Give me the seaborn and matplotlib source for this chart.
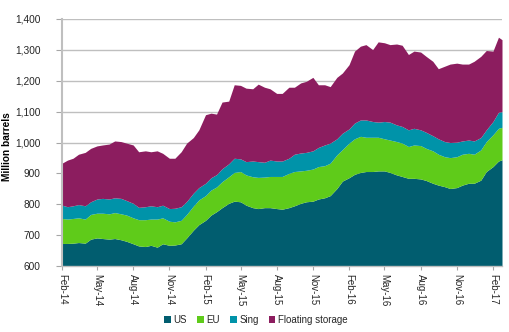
import matplotlib
matplotlib.use("Agg")
import matplotlib.pyplot as plt
import matplotlib.dates as mdates
import matplotlib.ticker as mticker
from matplotlib.patches import Patch
import pandas as pd
import seaborn as sns

# Semi-monthly observations, Feb 2014 to late Feb 2017 (million barrels)
dates = list(pd.date_range("2014-02-01", periods=74, freq="SMS")) + [pd.Timestamp("2017-02-24")]

us = [673, 673, 674, 676, 674, 687, 691, 689, 687, 689, 685, 680, 672, 665, 663, 667, 661, 672, 667,
      668, 672, 691, 716, 734, 748, 765, 776, 789, 803,
      810, 808, 797, 789, 786, 789, 789, 786, 784, 789,
      795, 803, 808, 810, 817, 821, 828, 851, 875, 886,
      897, 903, 906, 906, 908, 908, 903, 895, 890, 884,
      884, 882, 877, 868, 862, 857, 851, 854, 862, 868,
      868, 878, 906, 922, 940, 944]

eu = [81, 79, 80, 80, 78, 80, 80, 82, 82, 84, 84, 85, 84, 85, 87, 85, 91, 84, 78,
      75, 76, 76, 78, 80, 80, 81, 80, 84, 86,
      93, 98, 98, 100, 101, 99, 101, 104, 106, 111,
      111, 105, 102, 104, 105, 104, 105, 109, 102, 112,
      115, 117, 111, 111, 109, 104, 105, 108, 108, 103,
      108, 108, 104, 105, 100, 97, 100, 100, 100, 97,
      94, 98, 97, 103, 106, 105]

sing = [43, 40, 41, 43, 43, 41, 46, 48, 48, 48, 50, 47, 47, 40, 42, 43, 40, 41, 41,
        44, 44, 42, 42, 40, 40, 40, 40, 42, 42,
        46, 41, 43, 51, 51, 48, 53, 50, 50, 49,
        56, 58, 58, 59, 62, 67, 65, 52, 53, 46,
        51, 53, 56, 51, 49, 56, 58, 54, 54, 54,
        54, 51, 52, 49, 50, 49, 49, 47, 43, 43,
        43, 40, 38, 43, 52, 51]

floating = [136, 151, 154, 163, 173, 173, 172, 173, 178, 184, 184, 186, 189, 180, 181, 175, 181, 168, 163,
            162, 178, 189, 180, 187, 222, 209, 196, 216, 203,
            238, 238, 238, 234, 251, 243, 231, 219, 219, 230,
            217, 227, 230, 238, 203, 195, 183, 199, 195, 208,
            233, 239, 244, 233, 260, 255, 251, 262, 263, 244,
            250, 252, 246, 241, 227, 244, 254, 256, 249, 246,
            258, 263, 257, 228, 243, 233]

series_names = ["US", "EU", "Sing", "Floating storage"]
colors = ["#015D6F", "#5FCB1A", "#0093A9", "#8C1D5F"]

df = pd.DataFrame({"date": dates, "US": us, "EU": eu, "Sing": sing, "Floating storage": floating})

sns.set_theme(style="white")
plt.rcParams["font.family"] = ["Liberation Sans", "DejaVu Sans"]

fig = plt.figure(figsize=(5.10, 3.32), dpi=100)
ax = fig.add_axes([62 / 510, 1 - 266 / 332, 440 / 510, 247 / 332])

ax.stackplot(df["date"], [df[n] for n in series_names], colors=colors, baseline="zero",
             linewidth=0, zorder=2, antialiased=True)

ax.set_ylim(600, 1400)
ax.set_xlim(pd.Timestamp("2014-02-01"), pd.Timestamp("2017-02-24"))
ax.yaxis.set_major_locator(mticker.MultipleLocator(100))
ax.yaxis.set_major_formatter(mticker.FuncFormatter(lambda v, p: f"{int(v):,}"))
ax.grid(axis="y", color="#BFBFBF", linewidth=1.0, zorder=1)
ax.grid(axis="x", visible=False)

ax.xaxis.set_major_locator(mdates.MonthLocator(bymonth=[2, 5, 8, 11]))
ax.xaxis.set_major_formatter(mdates.DateFormatter("%b-%y"))

for lab in ax.get_xticklabels():
    lab.set_rotation(-90)
    lab.set_ha("center")
    lab.set_va("top")

ax.tick_params(axis="x", length=3, width=0.8, color="#A6A6A6", pad=2.5, labelsize=7, labelcolor="#262626",
               bottom=True)
ax.tick_params(axis="y", length=4, width=0.8, color="#A6A6A6", pad=11.5, labelsize=7.3, labelcolor="#262626",
               left=True)

sns.despine(ax=ax, top=True, right=True)
ax.spines["left"].set_color("#BFBFBF")
ax.spines["left"].set_linewidth(1.5)
ax.spines["bottom"].set_color("#BFBFBF")
ax.spines["bottom"].set_linewidth(1.0)

fig.text(7.5 / 510, 1 - 147 / 332, "Million barrels", rotation=90, ha="center", va="center",
         fontsize=7.3, fontweight="bold", color="#000000")

handles = [Patch(facecolor=c, edgecolor="none") for c in colors]
fig.legend(handles, series_names, loc="center", bbox_to_anchor=(256 / 510, 1 - 320 / 332), ncol=4,
           frameon=False, fontsize=7, handlelength=0.7, handleheight=0.7, handletextpad=0.3,
           columnspacing=1.0, labelcolor="#262626")

fig.savefig("out.png", dpi=100)
